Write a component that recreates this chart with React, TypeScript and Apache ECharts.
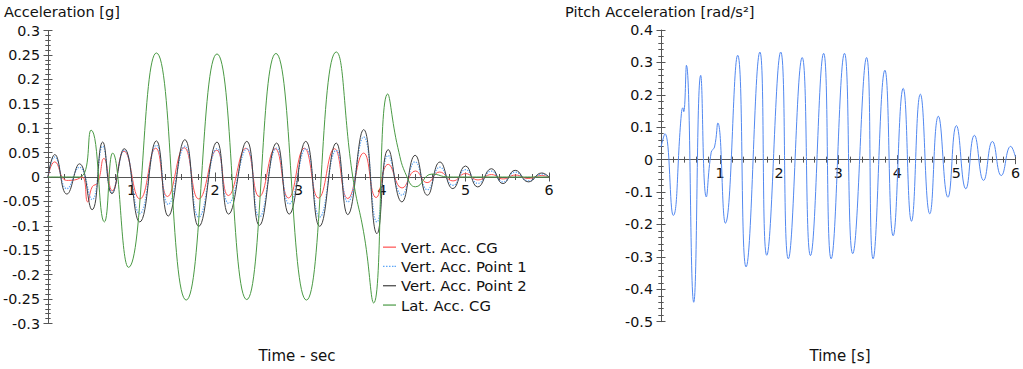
import React, { useEffect, useRef } from "react";
import * as echarts from "echarts";

// ---------- data ----------
const leftTitle = "Acceleration [g]";
const rightTitle = "Pitch Acceleration [rad/s²]";
const leftXName = "Time - sec";
const rightXName = "Time [s]";

const seriesNames = ["Vert. Acc. CG", "Vert. Acc. Point 1", "Vert. Acc. Point 2", "Lat. Acc. CG"];

// [time s, acceleration g]
const vertAccCG: number[][] = [
  [0, 0], [0.08, 0.031], [0.22, -0.007], [0.32, -0.006], [0.41, 0.0], [0.476, -0.051], [0.53, -0.02],
  [0.595, -0.012], [0.67, 0.038], [0.77, -0.028], [0.91, 0.053], [1.1, -0.045], [1.29, 0.059],
  [1.43, -0.04], [1.63, 0.06], [1.806, -0.045], [2.02, 0.055], [2.16, -0.038], [2.37, 0.059],
  [2.53, -0.04], [2.72, 0.058], [2.88, -0.043], [3.07, 0.059], [3.24, -0.043], [3.43, 0.058],
  [3.59, -0.044], [3.78, 0.049], [3.93, -0.042], [4.075, 0.026], [4.24, -0.0225], [4.4, 0.0123],
  [4.54, -0.0115], [4.69, 0.0102], [4.85, -0.008], [5.0, 0.007], [5.15, -0.006], [5.31, 0.005],
  [5.45, -0.004], [5.6, 0.004], [5.75, -0.003], [5.91, 0.003], [6, 0],
];

const vertAccP1: number[][] = [
  [0, 0], [0.08, 0.041], [0.226, -0.024], [0.377, 0.02], [0.528, -0.046], [0.655, 0.063],
  [0.766, -0.031], [0.913, 0.055], [1.099, -0.075], [1.298, 0.065], [1.44, -0.056], [1.639, 0.063],
  [1.806, -0.082], [2.024, 0.058], [2.163, -0.054], [2.381, 0.058], [2.532, -0.082], [2.738, 0.059],
  [2.889, -0.055], [3.087, 0.058], [3.254, -0.082], [3.452, 0.0546], [3.59, -0.051], [3.78, 0.082],
  [3.94, -0.092], [4.075, 0.044], [4.238, -0.037], [4.397, 0.031], [4.544, -0.026], [4.694, 0.02],
  [4.849, -0.017], [5.0, 0.015], [5.147, -0.013], [5.31, 0.012], [5.448, -0.01], [5.595, 0.01],
  [5.754, -0.008], [5.913, 0.006], [6, 0],
];

const vertAccP2: number[][] = [
  [0, 0], [0.08, 0.046], [0.226, -0.035], [0.377, 0.027], [0.528, -0.067], [0.655, 0.0716],
  [0.766, -0.034], [0.913, 0.058], [1.099, -0.092], [1.298, 0.074], [1.44, -0.08], [1.639, 0.0765],
  [1.806, -0.101], [2.024, 0.0716], [2.163, -0.076], [2.381, 0.073], [2.532, -0.099], [2.738, 0.0695],
  [2.889, -0.076], [3.087, 0.073], [3.254, -0.101], [3.452, 0.0695], [3.59, -0.077], [3.78, 0.097],
  [3.94, -0.116], [4.075, 0.056], [4.238, -0.051], [4.397, 0.0444], [4.544, -0.0374], [4.694, 0.0307],
  [4.849, -0.0238], [5.0, 0.0225], [5.147, -0.0204], [5.31, 0.017], [5.448, -0.0135], [5.595, 0.0137],
  [5.754, -0.01], [5.913, 0.0082], [6, 0],
];

const latAccCG: number[][] = [
  [0, 0], [0.38, 0], [0.516, 0.096], [0.675, -0.092], [0.774, 0.049], [0.964, -0.185], [1.298, 0.254],
  [1.655, -0.252], [2.024, 0.252], [2.38, -0.251], [2.73, 0.253], [3.095, -0.252], [3.452, 0.256],
  [3.65, 0], [3.79, -0.123], [3.9, -0.258], [4.068, 0.17], [4.19, 0.06], [4.3, 0.0], [4.4, -0.02],
  [4.6, 0.006], [4.8, 0], [6, 0],
];

// [time s, pitch acceleration rad/s²]
const pitchAcc: number[][] = [
  [0, 0.039], [0.067, 0.08], [0.207, -0.172], [0.345, 0.142], [0.37, 0.16], [0.385, 0.148], [0.43, 0.291],
  [0.554, -0.44], [0.672, 0.26], [0.767, -0.115], [0.85, 0.023], [0.906, 0.039], [0.962, 0.113],
  [1.09, -0.196], [1.298, 0.322], [1.44, -0.331], [1.674, 0.332], [1.79, -0.295], [2.027, 0.332],
  [2.155, -0.306], [2.39, 0.315], [2.53, -0.296], [2.753, 0.328], [2.88, -0.306], [3.106, 0.328],
  [3.245, -0.29], [3.48, 0.315], [3.59, -0.306], [3.79, 0.276], [3.93, -0.235], [4.1, 0.22],
  [4.24, -0.19], [4.39, 0.202], [4.55, -0.167], [4.695, 0.134], [4.857, -0.116], [5.0, 0.105],
  [5.16, -0.09], [5.305, 0.075], [5.46, -0.064], [5.61, 0.056], [5.76, -0.049], [5.92, 0.041], [6, 0.008],
];

// ---------- styling ----------
const FONT = "'DejaVu Sans', Verdana, sans-serif";
const AXIS = "#555555";
const TEXT = "#111111";
const colors = ["#ff5050", "#60a8f8", "#404040", "#4a9a44"];
const pitchColor = "#5288f0";

const W = 1023;
const H = 369;
const gridL = { left: 45, right: 474, top: 30.5, bottom: 45.5 };
const gridR = { left: 661, right: 5, top: 30, bottom: 47.3 };
const leftY = { min: -0.3, max: 0.3, interval: 0.05 };
const rightY = { min: -0.5, max: 0.4, interval: 0.1 };

// distance (px) of the y=0 line from the grid's top and bottom edges
function zeroOffsets(g: any, y: any) {
  const h = H - g.top - g.bottom;
  const fromTop = (h * y.max) / (y.max - y.min);
  return { fromTop, fromBottom: h - fromTop };
}

function xAxes(gridIndex: number, g: any, y: any) {
  const z = zeroOffsets(g, y);
  const common = {
    type: "value",
    gridIndex,
    min: 0,
    max: 6,
    interval: 1,
    splitLine: { show: false },
  };
  return [
    {
      ...common,
      position: "bottom",
      offset: -z.fromBottom,
      axisLine: { show: true, onZero: false, lineStyle: { color: AXIS, width: 1 } },
      axisTick: { show: true, length: 4.5, lineStyle: { color: AXIS } },
      minorTick: { show: true, splitNumber: 5, length: 3, lineStyle: { color: AXIS } },
      axisLabel: { show: true, showMinLabel: false, margin: 6, fontSize: 14.3, fontFamily: FONT, color: TEXT },
    },
    {
      ...common,
      position: "top",
      offset: -z.fromTop,
      axisLine: { show: false, onZero: false },
      axisTick: { show: true, length: 4.5, lineStyle: { color: AXIS } },
      minorTick: { show: true, splitNumber: 5, length: 3, lineStyle: { color: AXIS } },
      axisLabel: { show: false },
    },
  ];
}

function yAxes(gridIndex: number, xIndex: number, y: any) {
  const common = {
    type: "value",
    gridIndex,
    min: y.min,
    max: y.max,
    interval: y.interval,
    splitLine: { show: false },
  };
  return [
    {
      ...common,
      position: "left",
      axisLine: { show: true, onZero: true, onZeroAxisIndex: xIndex, lineStyle: { color: AXIS, width: 1 } },
      axisTick: { show: true, length: 4.5, lineStyle: { color: AXIS } },
      minorTick: { show: true, splitNumber: 5, length: 2.7, lineStyle: { color: AXIS } },
      axisLabel: { show: true, margin: 8, fontSize: 14.3, fontFamily: FONT, color: TEXT },
    },
    {
      ...common,
      position: "right",
      axisLine: { show: false, onZero: true, onZeroAxisIndex: xIndex + 1 },
      axisTick: { show: true, length: 4.5, lineStyle: { color: AXIS } },
      minorTick: { show: true, splitNumber: 5, length: 2.7, lineStyle: { color: AXIS } },
      axisLabel: { show: false },
    },
  ];
}

function lineSeries(name: string, data: number[][], color: string, type: string, width = 1, xi = 0, yi = 0) {
  return {
    name,
    type: "line",
    xAxisIndex: xi,
    yAxisIndex: yi,
    data,
    symbol: "none",
    showSymbol: false,
    smooth: 0.5,
    lineStyle: { color, width, type },
    itemStyle: { color },
    emphasis: { disabled: true },
  };
}

const solidIcon = "path://M0,0H13V1.2H0Z";
const dottedIcon =
  "path://M0,0H1.5V1.2H0Z M3,0H4.5V1.2H3Z M6,0H7.5V1.2H6Z M9,0H10.5V1.2H9Z M11.5,0H13V1.2H11.5Z";

export default function App() {
  const ref = useRef<HTMLDivElement>(null);

  useEffect(() => {
    if (!ref.current) return;
    const chart = echarts.init(ref.current, null, { renderer: "svg" });
    const option: any = {
      animation: false,
      backgroundColor: "#ffffff",
      textStyle: { fontFamily: FONT },
      grid: [
        { ...gridL, containLabel: false },
        { ...gridR, containLabel: false },
      ],
      xAxis: [...xAxes(0, gridL, leftY), ...xAxes(1, gridR, rightY)],
      yAxis: [...yAxes(0, 0, leftY), ...yAxes(1, 2, rightY)],
      legend: {
        orient: "vertical",
        left: 383,
        top: 237.5,
        padding: 0,
        itemGap: 0,
        itemWidth: 13,
        itemHeight: 1.2,
        data: [
          { name: seriesNames[0], icon: solidIcon },
          { name: seriesNames[1], icon: dottedIcon },
          { name: seriesNames[2], icon: solidIcon },
          { name: seriesNames[3], icon: solidIcon },
        ],
        textStyle: { fontSize: 14.8, fontFamily: FONT, color: TEXT, lineHeight: 19.3 },
        selectedMode: false,
      },
      series: [
        lineSeries(seriesNames[0], vertAccCG, colors[0], "solid"),
        lineSeries(seriesNames[1], vertAccP1, colors[1], "dotted", 1.3),
        lineSeries(seriesNames[2], vertAccP2, colors[2], "solid"),
        lineSeries(seriesNames[3], latAccCG, colors[3], "solid"),
        lineSeries("Pitch Acceleration", pitchAcc, pitchColor, "solid", 1, 2, 2),
      ],
      graphic: [
        {
          type: "text", left: 4, top: 4,
          style: { text: leftTitle, fontSize: 14.6, fontFamily: FONT, fill: TEXT },
        },
        {
          type: "text", left: 565, top: 4,
          style: { text: rightTitle, fontSize: 14.6, fontFamily: FONT, fill: TEXT },
        },
        {
          type: "text", x: 297, y: 356,
          style: { text: leftXName, fontSize: 15, fontFamily: FONT, fill: TEXT, align: "center", verticalAlign: "middle" },
        },
        {
          type: "text", x: 840, y: 356,
          style: { text: rightXName, fontSize: 15, fontFamily: FONT, fill: TEXT, align: "center", verticalAlign: "middle" },
        },
      ],
    };
    chart.setOption(option);
    return () => chart.dispose();
  }, []);

  return (
    <div
      ref={ref}
      style={{ position: "absolute", left: 0, top: 0, width: W, height: H, background: "#fff" }}
    />
  );
}
